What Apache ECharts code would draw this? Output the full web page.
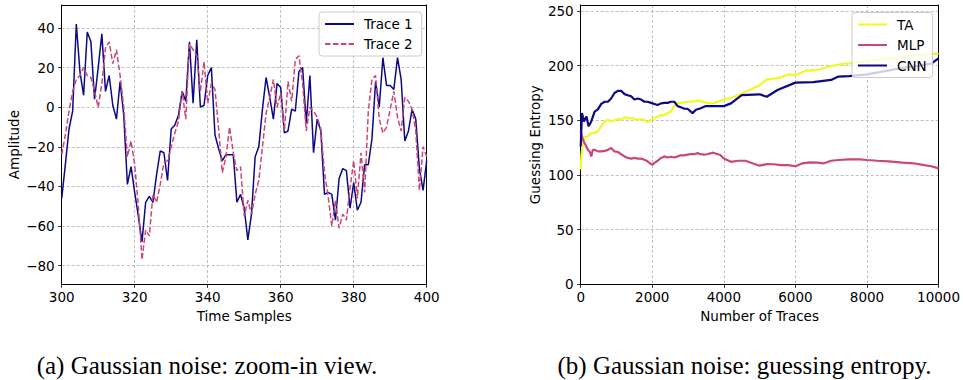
<!DOCTYPE html>
<html><head><meta charset="utf-8">
<script src="https://cdn.jsdelivr.net/npm/echarts@6/dist/echarts.min.js"></script>
<style>html,body{margin:0;padding:0;background:#fff}#c{width:963px;height:380px}</style>
</head><body><div id="c"></div>
<script>
// ---------- (a) zoom-in view ----------
const sampleStart = 300;
const trace1 = [-46,-29,-11,-2,42,18,6,38,33,4,
  20,37,8,16,1,-6,13,-4,-39,-30,
  -43,-55,-68,-48,-45,-48,-34,-22,-23,-37,
  -11,-9,-4,8,3,33,2,34,0,1,
  16,20,-14,-21,-27,-24,-24,-24,-48,-44,
  -51,-67,-54,-25,-20,-1,15,5,-6,12,
  10,-13,-12,-1,-2,18,20,-8,16,-23,
  -6,-12,-44,-43,-44,-57,-36,-31,-32,-51,
  -38,-52,-48,-29,-29,-16,13,0,25,11,
  11,9,25,14,-17,-12,-1,-6,-31,-42,
  -27];
const trace2 = [-24,-14,-2,8,14,16,20,16,15,8,
  0,12,30,33,22,29,16,0,-25,-17,
  -29,-50,-77,-62,-65,-44,-48,-39,-28,-27,
  -20,-13,-7,8,-6,32,29,26,8,23,
  2,12,9,-11,-33,-25,-10,-23,-32,-30,
  -55,-47,-54,-44,-37,-20,-3,5,14,0,
  7,-12,13,3,24,26,12,-12,0,-2,
  -5,-11,-33,-45,-60,-47,-61,-54,-57,-41,
  -27,-46,-23,-43,-2,14,16,-6,-13,-10,
  -1,8,-5,-12,5,3,-1,-12,-42,-20,
  -25];
const sampleTicks = [300,320,340,360,380,400];
const ampTicks = [-80,-60,-40,-20,0,20,40];

// ---------- (b) guessing entropy ----------
const taX = [0,20,65,110,200,295,390,480,575,670,760,850,945,1040,1130,1225,1315,1410,1500,1595,
  1690,1780,1870,1965,2060,2150,2245,2340,2430,2520,2615,2710,2800,2895,2985,3080,3170,3265,3355,3450,
  3500,3700,4000,4300,4600,5000,5200,5500,5800,6000,6300,6600,7000,7300,7500,8000,8500,9000,9500,9900,10000];
const taY = [105,118,130.7,134.5,135.5,138.5,138.5,140,144.5,149,150.5,149,150,151.5,150.5,152.7,152,152,151.5,150.5,
  151,150.5,148,150.5,152,153.6,154.5,155,156.4,158,163,166,166,166.6,167,167,167.4,168,167.4,167,
  166,165.5,169,171.6,176,182,187.5,188.4,192,191.5,195.4,196,199.7,201.5,202,204,206,208,210,211,210.7];
const mlpX = [0,65,110,160,200,250,295,340,390,480,575,670,760,850,945,1040,1130,1225,1315,1410,
  1500,1595,1690,1780,1870,1965,2010,2060,2150,2245,2340,2430,2520,2615,2710,2800,2895,2985,3080,3170,
  3265,3355,3450,3530,3700,3900,4000,4200,4400,4600,4800,5000,5200,5400,5600,5800,6000,6200,6400,6600,
  6800,7000,7200,7500,7800,8000,8300,8600,9000,9300,9600,9800,10000];
const mlpY = [140,132,129,126,123,121.6,117,123,123,121.6,121.6,122,123,124.7,121.6,121,119,117,115.6,115,
  115.6,115,115,114,112.5,110,109.5,111,113,115.6,117,116,116.7,116,117,118,118,118.6,119,119,
  120,119,118.6,119,120.4,118.3,115,112,113,113,110.7,108.5,110,109.8,109,109,108,110.7,111.6,111.3,
  110.7,113,113.7,114.3,114.3,113.7,113,112.5,111.3,110.7,109,108,106];
const cnnX = [0,36,90,160,220,295,390,480,575,670,760,850,945,1040,1130,1225,1315,1410,1500,1595,
  1690,1780,1870,1965,2060,2150,2245,2340,2430,2520,2615,2710,2800,2895,2985,3125,3220,3355,3495,4000,
  4200,4500,5000,5200,5500,6000,6500,7000,7200,7500,8000,8500,9000,9500,9800,10000];
const cnnY = [126,156.6,149,153.6,144.5,149,158,160,165,167,167,170,175,177,177,174,173,172,169,170,
  169,167,167,166,165,164,165.5,166,166,167,167,163,162,160.6,160.6,156.6,159.7,161,163,163,
  165.5,173,173.8,171.6,177.7,184.5,185,187,190,190.5,192,195,198,200,202,206.7];
const traceTicks = [0,2000,4000,6000,8000,10000];
const geTicks = [0,50,100,150,200,250];

const captions = ['(a) Gaussian noise: zoom-in view.', '(b) Gaussian noise: guessing entropy.'];

// ---------- build ----------
const FONT = 'DejaVu Sans';
const pairs = (xs, ys) => ys.map((v, i) => [xs[i], v]);
const seq = trace1.map((_, i) => sampleStart + i);
const fmt = v => (v < 0 ? '\u2212' + Math.abs(v) : String(v));

const grid = '#b0b0b0';
function axis(name, gap, ticks, margin, extra) {
  return Object.assign({
    type: 'value', name: name, nameLocation: 'middle', nameGap: gap,
    nameTextStyle: {fontFamily: FONT, fontSize: 13.5, color: '#000'},
    axisLine: {show: true, onZero: false, lineStyle: {color: '#000', width: 1}},
    axisTick: {show: true, inside: false, length: 3.5, lineStyle: {color: '#000', width: 0.8}, customValues: ticks},
    axisLabel: {fontFamily: FONT, fontSize: 13.5, color: '#000', margin: margin, formatter: fmt, customValues: ticks},
    splitLine: {show: true, lineStyle: {color: grid, width: 0.8, type: [3, 2]}}
  }, extra);
}
function frame(extra) {
  return Object.assign({
    type: 'value', axisLine: {show: true, onZero: false, lineStyle: {color: '#000', width: 1}},
    axisTick: {show: false}, axisLabel: {show: false}, splitLine: {show: false}
  }, extra);
}
const legendBase = {
  orient: 'vertical', itemWidth: 29, itemHeight: 14, backgroundColor: 'rgba(255,255,255,0.8)',
  borderColor: '#cccccc', borderWidth: 1, borderRadius: 3, selectedMode: false,
  itemStyle: {opacity: 0},
  textStyle: {fontFamily: FONT, fontSize: 13.5, color: '#000', lineHeight: 14, padding: [0, 0, 0, 5]}
};
const capStyle = {fontFamily: 'Liberation Serif', fontSize: 25, fontWeight: 'normal', color: '#000', lineHeight: 26};

const chart = echarts.init(document.getElementById('c'), null, {renderer: 'svg'});
chart.setOption({
  animation: false,
  backgroundColor: '#fff',
  grid: [
    {left: 61.7, top: 5, width: 365, height: 279.3},
    {left: 580.7, top: 5, width: 359.3, height: 279.3}
  ],
  xAxis: [
    axis('Time Samples', 22, sampleTicks, 6, {gridIndex: 0, min: 300, max: 400, interval: 20}),
    axis('Number of Traces', 22, traceTicks, 6, {gridIndex: 1, min: 0, max: 10000, interval: 2000}),
    frame({gridIndex: 0, position: 'top', min: 300, max: 400}),
    frame({gridIndex: 1, position: 'top', min: 0, max: 10000})
  ],
  yAxis: [
    axis('Amplitude', 41, ampTicks, 7, {gridIndex: 0, min: -89.4, max: 51.6}),
    axis('Guessing Entropy', 39, geTicks, 7, {gridIndex: 1, min: 0, max: 255.5}),
    frame({gridIndex: 0, position: 'right', min: -89.4, max: 51.6}),
    frame({gridIndex: 1, position: 'right', min: 0, max: 255.5})
  ],
  legend: [
    Object.assign({}, legendBase, {data: ['Trace 1', 'Trace 2'], left: 319, top: 12, padding: [5, 9, 5, 5], itemGap: 6}),
    Object.assign({}, legendBase, {data: ['TA', 'MLP', 'CNN'], left: 852, top: 12.5, padding: [5, 6, 5, 5], itemGap: 6.5})
  ],
  title: [
    {text: captions[0], left: 207, top: 352, padding: 0, textAlign: 'center', textStyle: capStyle},
    {text: captions[1], left: 744.5, top: 352, padding: 0, textAlign: 'center', textStyle: capStyle}
  ],
  series: [
    {name: 'Trace 1', type: 'line', xAxisIndex: 0, yAxisIndex: 0, data: pairs(seq, trace1),
     symbol: 'none', showSymbol: false, color: '#0d0887', lineStyle: {color: '#0d0887', width: 1.5}},
    {name: 'Trace 2', type: 'line', xAxisIndex: 0, yAxisIndex: 0, data: pairs(seq, trace2),
     symbol: 'none', showSymbol: false, color: '#cc4778', lineStyle: {color: '#cc4778', width: 1.5, type: [5.5, 2.4]}},
    {name: 'TA', type: 'line', xAxisIndex: 1, yAxisIndex: 1, data: pairs(taX, taY),
     symbol: 'none', showSymbol: false, color: '#f0f921', lineStyle: {color: '#f0f921', width: 2.2}},
    {name: 'MLP', type: 'line', xAxisIndex: 1, yAxisIndex: 1, data: pairs(mlpX, mlpY),
     symbol: 'none', showSymbol: false, color: '#cc4778', lineStyle: {color: '#cc4778', width: 2.2}},
    {name: 'CNN', type: 'line', xAxisIndex: 1, yAxisIndex: 1, data: pairs(cnnX, cnnY),
     symbol: 'none', showSymbol: false, color: '#0d0887', lineStyle: {color: '#0d0887', width: 2.2}}
  ]
});
</script>
</body></html>
